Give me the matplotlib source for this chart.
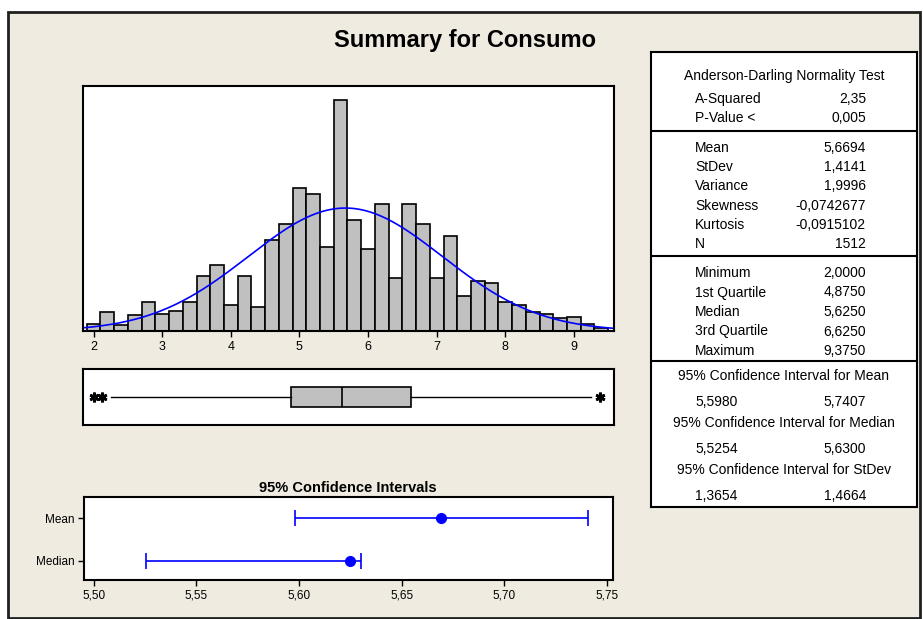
import numpy as np
import matplotlib
matplotlib.use("Agg")
import matplotlib.pyplot as plt
from matplotlib.patches import Rectangle

plt.rcParams['font.family'] = ['Liberation Sans', 'DejaVu Sans']

# histograma: clases de ancho 0,2 desde 1,9
bin_start = 1.9
bin_width = 0.2
counts = [5, 13, 4, 11, 20, 12, 14, 20, 38, 46, 18, 38, 17, 63, 74, 99, 95, 58,
          160, 77, 57, 88, 37, 88, 74, 37, 66, 24, 35, 33, 20, 18, 13, 12, 9, 10, 5, 2]
hist_ticks = [2, 3, 4, 5, 6, 7, 8, 9]

# estadisticos
n_obs = 1512
media = 5.6694
desvio = 1.4141
q1, mediana, q3 = 4.875, 5.625, 6.625
bigote_inf, bigote_sup = 2.25, 9.25
atipicos = [2.0, 2.125, 9.375]

# intervalos de confianza
ic_nombres = ['Mean', 'Median']
ic_centro = [5.6694, 5.625]
ic_inf = [5.5980, 5.5254]
ic_sup = [5.7407, 5.6300]
ic_ticks = [5.50, 5.55, 5.60, 5.65, 5.70, 5.75]

# tabla
sec1 = [('A-Squared', '2,35'), ('P-Value <', '0,005')]
sec2 = [('Mean', '5,6694'), ('StDev', '1,4141'), ('Variance', '1,9996'),
        ('Skewness', '-0,0742677'), ('Kurtosis', '-0,0915102'), ('N', '1512')]
sec3 = [('Minimum', '2,0000'), ('1st Quartile', '4,8750'), ('Median', '5,6250'),
        ('3rd Quartile', '6,6250'), ('Maximum', '9,3750')]
sec4 = [('95% Confidence Interval for Mean', '5,5980', '5,7407'),
        ('95% Confidence Interval for Median', '5,5254', '5,6300'),
        ('95% Confidence Interval for StDev', '1,3654', '1,4664')]

W, H = 923, 619
fig = plt.figure(figsize=(W / 100, H / 100), dpi=100, facecolor='white')

def caja(x0, y0, x1, y1):
    # pixeles (arriba-izquierda) -> fraccion de figura
    return [x0 / W, 1 - y1 / H, (x1 - x0) / W, (y1 - y0) / H]

fondo = Rectangle((8 / W, 1 - 618 / H), 912 / W, 606 / H, transform=fig.transFigure,
                  facecolor='#EFEBE1', edgecolor='#202020', lw=2, zorder=-10)
fig.patches.append(fondo)

fig.text(465 / W, 1 - 41 / H, 'Summary for Consumo', ha='center', va='center',
         fontsize=17, fontweight='bold')

gris = '#C0C0C0'
azul = '#0000FF'

# histograma
ax1 = fig.add_axes(caja(83, 86, 614, 331))
lefts = [bin_start + i * bin_width for i in range(len(counts))]
ax1.bar(lefts, counts, width=bin_width, align='edge', color=gris, edgecolor='black', lw=1.2)
xs = np.linspace(1.845, 9.585, 300)
ys = n_obs * bin_width * np.exp(-0.5 * ((xs - media) / desvio) ** 2) / (desvio * np.sqrt(2 * np.pi))
ax1.plot(xs, ys, color=azul, lw=1.2)
ax1.set_xlim(1.845, 9.585)
ax1.set_ylim(0, 170)
ax1.set_yticks([])
ax1.set_xticks(hist_ticks)
ax1.tick_params(axis='x', labelsize=9, length=4, width=1, pad=3)

# boxplot
ax2 = fig.add_axes(caja(83, 369, 614, 425))
stats = [dict(med=mediana, q1=q1, q3=q3, whislo=bigote_inf, whishi=bigote_sup, fliers=atipicos)]
ax2.bxp(stats, vert=False, widths=0.36, patch_artist=True, showcaps=False,
        boxprops=dict(facecolor=gris, edgecolor='black', lw=1.2),
        medianprops=dict(color='black', lw=1.2),
        whiskerprops=dict(color='black', lw=1),
        flierprops=dict(marker=(6, 2, 0), markersize=7, markeredgewidth=2,
                        markeredgecolor='black'))
ax2.set_xlim(1.845, 9.585)
ax2.set_ylim(0.5, 1.5)
ax2.set_xticks([])
ax2.set_yticks([])

# intervalos de confianza
ax3 = fig.add_axes(caja(84, 497, 613, 580))
pos = [2, 1]
for y, c, lo, hi in zip(pos, ic_centro, ic_inf, ic_sup):
    ax3.errorbar([c], [y], xerr=[[c - lo], [hi - c]], fmt='o', color=azul, ms=7,
                 capsize=6, elinewidth=1.2, capthick=1.2)
ax3.set_xlim(5.4953, 5.753)
ax3.set_ylim(0.54, 2.5)
ax3.set_yticks(pos)
ax3.set_yticklabels(ic_nombres)
ax3.set_xticks(ic_ticks)
ax3.set_xticklabels([f'{v:.2f}'.replace('.', ',') for v in ic_ticks])
ax3.tick_params(labelsize=8.5, length=4, width=1, pad=3)
fig.text(348 / W, 1 - 488 / H, '95% Confidence Intervals', ha='center', va='center',
         fontsize=10.5, fontweight='bold')

for ax in (ax1, ax2, ax3):
    ax.set_facecolor('white')
    for s in ax.spines.values():
        s.set_linewidth(1.5)

# tabla
ax4 = fig.add_axes(caja(651, 52, 917, 507))
ax4.set_xlim(651, 917)
ax4.set_ylim(507, 52)
ax4.set_xticks([])
ax4.set_yticks([])
ax4.set_facecolor('white')
for s in ax4.spines.values():
    s.set_linewidth(1.5)
for yl in [130.5, 255.5, 360.5]:
    ax4.axhline(yl, color='black', lw=1.5)

fs = 10
xc, xl, xr = 784, 695, 866
ax4.text(xc, 76, 'Anderson-Darling Normality Test', ha='center', va='center', fontsize=fs)
y = 99
for lab, val in sec1:
    ax4.text(xl, y, lab, ha='left', va='center', fontsize=fs)
    ax4.text(xr, y, val, ha='right', va='center', fontsize=fs)
    y += 19.5
y = 148
for lab, val in sec2:
    ax4.text(xl, y, lab, ha='left', va='center', fontsize=fs)
    ax4.text(xr, y, val, ha='right', va='center', fontsize=fs)
    y += 19.2
y = 273
for lab, val in sec3:
    ax4.text(xl, y, lab, ha='left', va='center', fontsize=fs)
    ax4.text(xr, y, val, ha='right', va='center', fontsize=fs)
    y += 19.5
y = 376
for lab, v1, v2 in sec4:
    ax4.text(xc, y, lab, ha='center', va='center', fontsize=fs)
    ax4.text(xl, y + 26, v1, ha='left', va='center', fontsize=fs)
    ax4.text(xr, y + 26, v2, ha='right', va='center', fontsize=fs)
    y += 47

fig.savefig('out.png', dpi=100, facecolor='white')
